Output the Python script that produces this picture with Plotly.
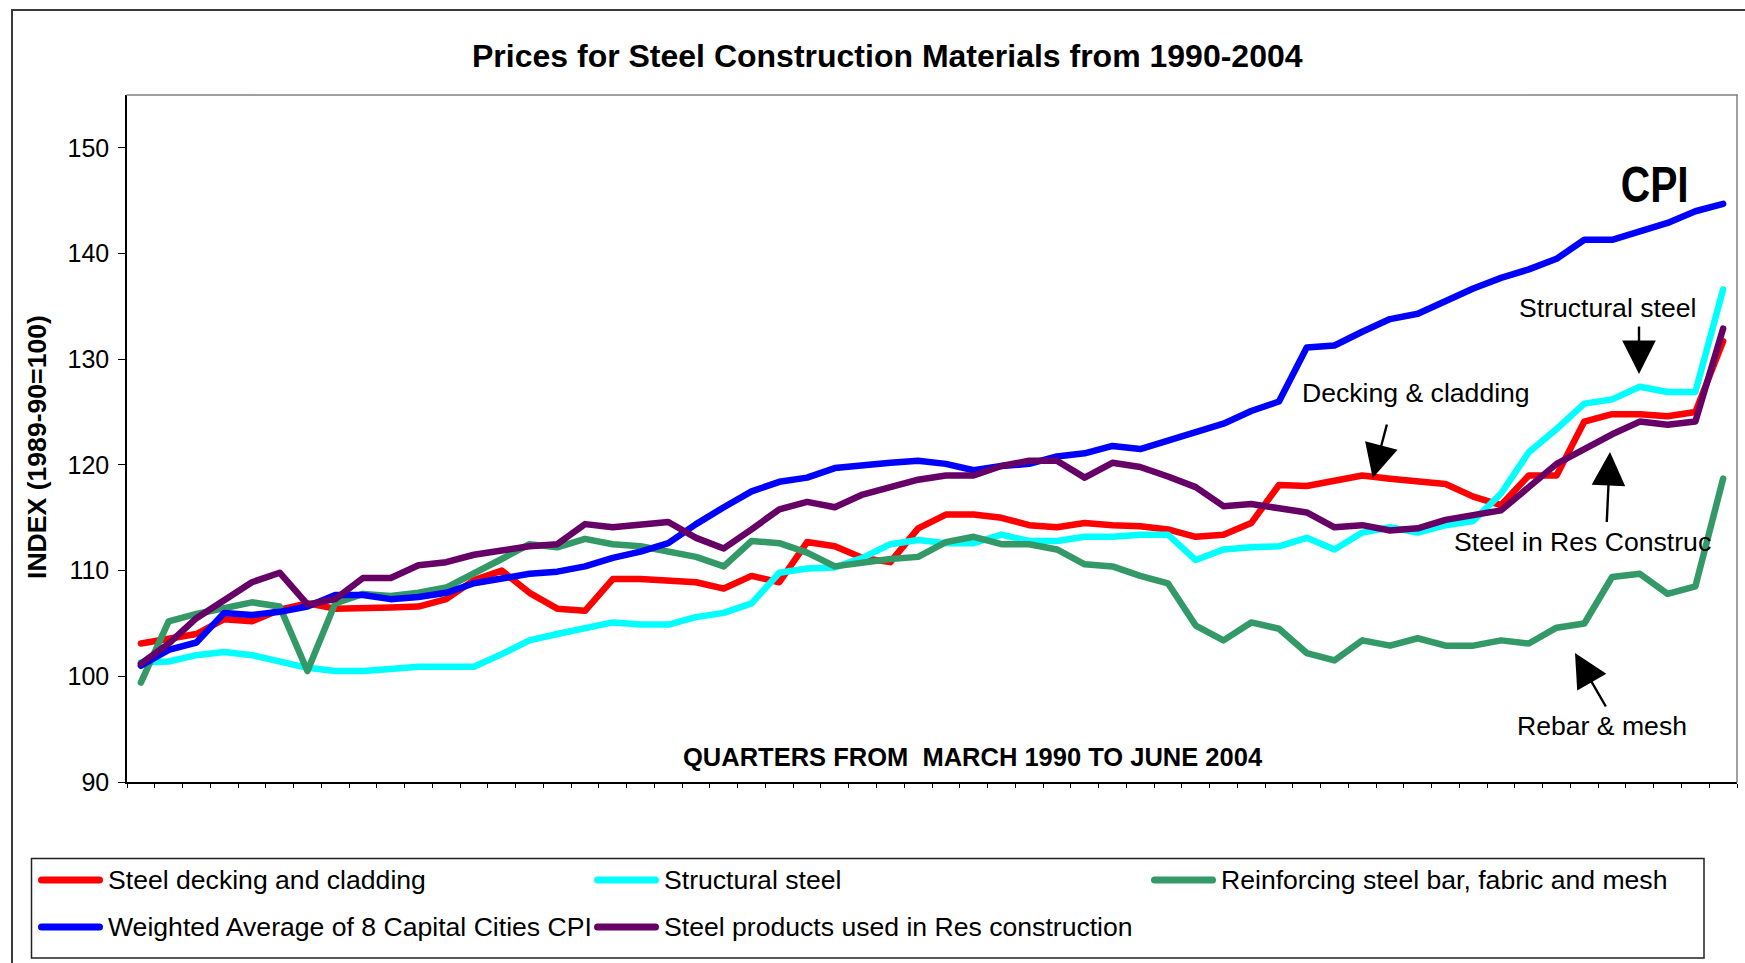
import plotly.graph_objects as go

# ---------------- data ----------------
months = ["Mar", "Jun", "Sep", "Dec"]
quarters = [f"{months[q % 4]}-{1990 + q // 4}" for q in range(58)]  # Mar-1990 .. Jun-2004

decking = [103.1, 103.6, 104.0, 105.4, 105.2, 106.3, 106.9, 106.4, 106.4, 106.5,
           106.6, 107.3, 109.1, 110.0, 107.9, 106.4, 106.2, 109.2, 109.2, 109.1,
           108.9, 108.3, 109.5, 108.9, 112.7, 112.3, 111.2, 110.8, 114.0, 115.3,
           115.3, 115.0, 114.3, 114.1, 114.5, 114.3, 114.2, 113.9, 113.2, 113.4,
           114.5, 118.1, 118.0, 118.5, 119.0, 118.7, 118.5, 118.2, 117.0, 116.2,
           119.0, 119.0, 124.1, 124.8, 124.8, 124.6, 125.0, 131.7]

structural = [101.3, 101.4, 102.0, 102.3, 102.0, 101.4, 100.8, 100.5, 100.5, 100.7,
              100.9, 100.9, 100.9, 102.1, 103.4, 104.0, 104.5, 105.1, 104.9, 104.9,
              105.6, 106.0, 106.9, 109.8, 110.2, 110.3, 111.2, 112.5, 112.9, 112.6,
              112.6, 113.4, 112.8, 112.8, 113.2, 113.2, 113.4, 113.4, 111.0, 112.0,
              112.2, 112.3, 113.1, 112.0, 113.6, 114.1, 113.6, 114.3, 114.7, 117.3,
              121.2, 123.4, 125.8, 126.2, 127.4, 126.9, 126.9, 136.6]

rebar = [99.4, 105.2, 105.9, 106.5, 107.0, 106.6, 100.5, 106.9, 107.8, 107.6,
         107.9, 108.4, 109.7, 111.1, 112.5, 112.2, 113.0, 112.5, 112.3, 111.8,
         111.3, 110.4, 112.8, 112.6, 111.7, 110.4, 110.8, 111.1, 111.3, 112.7,
         113.2, 112.5, 112.5, 112.0, 110.6, 110.4, 109.5, 108.8, 104.8, 103.4,
         105.1, 104.5, 102.2, 101.5, 103.4, 102.9, 103.6, 102.9, 102.9, 103.4,
         103.1, 104.6, 105.0, 109.4, 109.7, 107.8, 108.5, 118.7]

cpi = [101.0, 102.5, 103.2, 106.0, 105.8, 106.1, 106.6, 107.7, 107.7, 107.3,
       107.5, 107.9, 108.8, 109.2, 109.7, 109.9, 110.4, 111.2, 111.8, 112.6,
       114.4, 116.0, 117.5, 118.4, 118.8, 119.7, 120.0, 120.2, 120.4, 120.1,
       119.5, 119.9, 120.1, 120.8, 121.1, 121.8, 121.5, 122.3, 123.2, 123.9,
       125.1, 126.0, 131.1, 131.3, 132.6, 133.8, 134.3, 135.5, 136.7, 137.7,
       138.5, 139.5, 141.3, 141.3, 142.1, 142.9, 144.0, 144.7]

res_steel = [101.2, 103.1, 105.5, 107.2, 108.9, 109.8, 106.8, 107.3, 109.3, 109.3,
             110.5, 110.8, 111.5, 111.9, 112.3, 112.5, 114.4, 114.1, 114.4, 114.6,
             113.1, 112.1, 113.9, 115.8, 116.5, 116.0, 117.2, 117.9, 118.6, 119.0,
             119.0, 119.9, 120.4, 120.4, 118.8, 120.2, 119.8, 118.9, 117.9, 116.1,
             116.3, 115.9, 115.5, 114.1, 114.3, 113.8, 114.0, 114.8, 115.3, 115.7,
             117.9, 120.1, 121.5, 122.9, 124.1, 123.8, 124.1, 132.9]

series_names = ["Steel decking and cladding", "Structural steel",
                "Reinforcing steel bar, fabric and mesh",
                "Weighted Average of 8 Capital Cities CPI",
                "Steel products used in Res construction"]
series_values = [decking, structural, rebar, cpi, res_steel]
series_colors = ["#FF0000", "#00FFFF", "#339966", "#0000FF", "#660066"]

y_ticks = [90, 100, 110, 120, 130, 140, 150]

# ---------------- layout helpers ----------------
W, H = 1745, 963
ML, MR, MT, MB = 127, 8, 95, 181
PW, PH = W - ML - MR, H - MT - MB
FONT = "Liberation Sans, Arial, sans-serif"


def X(px):
    return (px - ML) / PW


def Y(py):
    return (H - MB - py) / PH


fig = go.Figure()
for name, vals, col in zip(series_names, series_values, series_colors):
    fig.add_trace(go.Scatter(x=quarters, y=vals, name=name, mode="lines",
                             line=dict(color=col, width=6.5), showlegend=False))

shapes = []
# outer chart border (extends past the right/bottom edge like the reference)
shapes.append(dict(type="rect", xref="paper", yref="paper",
                   x0=X(12), x1=X(1800), y0=Y(1010), y1=Y(10),
                   line=dict(color="#3a3a3a", width=2), layer="below"))
# plot area grey border (top and right)
shapes.append(dict(type="line", xref="paper", yref="paper", x0=0, x1=1, y0=1, y1=1,
                   line=dict(color="#808080", width=1.5)))
shapes.append(dict(type="line", xref="paper", yref="paper", x0=1, x1=1, y0=0, y1=1,
                   line=dict(color="#808080", width=1.5)))
# legend box
shapes.append(dict(type="rect", xref="paper", yref="paper",
                   x0=X(31.5), x1=X(1704), y0=Y(958), y1=Y(858.5),
                   line=dict(color="#222222", width=1.5)))

annotations = []
# legend entries (manual, Excel-like)
leg_pos = [(108, 880), (664, 880), (1221, 880), (108, 927), (664, 927)]
for (tx, ty), name, col in zip(leg_pos, series_names, series_colors):
    shapes.append(dict(type="line", xref="paper", yref="paper",
                       x0=X(tx - 66.5), x1=X(tx - 8.5), y0=Y(ty), y1=Y(ty),
                       line=dict(color=col, width=7)))
    annotations.append(dict(text=name, xref="paper", yref="paper", x=X(tx - 2), y=Y(ty),
                            xanchor="left", yanchor="middle", showarrow=False,
                            font=dict(family=FONT, size=26.6, color="black")))

# titles
annotations.append(dict(text="<b>Prices for Steel Construction Materials from 1990-2004</b>",
                        xref="paper", yref="paper", x=X(887), y=Y(56),
                        xanchor="center", yanchor="middle", showarrow=False,
                        font=dict(family=FONT, size=32, color="black")))
annotations.append(dict(text="<b>INDEX (1989-90=100)</b>", textangle=-90,
                        xref="paper", yref="paper", x=X(37), y=Y(447),
                        xanchor="center", yanchor="middle", showarrow=False,
                        font=dict(family=FONT, size=26.6, color="black")))
annotations.append(dict(text="<b>QUARTERS FROM  MARCH 1990 TO JUNE 2004</b>",
                        xref="paper", yref="paper", x=X(973), y=Y(757),
                        xanchor="center", yanchor="middle", showarrow=False,
                        font=dict(family=FONT, size=25.5, color="black")))
annotations.append(dict(text="<b>CPI</b>", xref="paper", yref="paper",
                        x=X(1654.5), y=Y(185), xanchor="center", yanchor="middle",
                        showarrow=False,
                        font=dict(family=FONT, size=50, color="black")))

# series labels
labels = [("Structural steel", 1607, 307.5), ("Decking & cladding", 1416, 393),
          ("Steel in Res Construc", 1582, 542), ("Rebar & mesh", 1602, 726)]
for txt, cx, cy in labels:
    annotations.append(dict(text=txt, xref="paper", yref="paper", x=X(cx), y=Y(cy),
                            xanchor="center", yanchor="middle", showarrow=False,
                            font=dict(family=FONT, size=26.6, color="black")))

# arrows: (head_x, head_y, tail_x, tail_y) in pixels
arrows = [(1639, 374, 1639, 325), (1372.7, 478, 1387.3, 423),
          (1610, 452, 1606.7, 523.5), (1575, 653, 1606.7, 708)]
for hx, hy, tx, ty in arrows:
    annotations.append(dict(text="", xref="paper", yref="paper", x=X(hx), y=Y(hy),
                            ax=tx - hx, ay=ty - hy, showarrow=True,
                            arrowhead=2, arrowsize=2.8, arrowwidth=2.4,
                            arrowcolor="black", standoff=0))

fig.update_layout(
    width=W, height=H,
    margin=dict(l=ML, r=MR, t=MT, b=MB, pad=0),
    paper_bgcolor="white", plot_bgcolor="white",
    font=dict(family=FONT, size=25, color="black"),
    showlegend=False,
    shapes=shapes,
    annotations=annotations,
    xaxis=dict(type="category", categoryorder="array", categoryarray=quarters,
               range=[-0.5, len(quarters) - 0.5], tickson="boundaries",
               ticks="outside", ticklen=4, tickwidth=1.3, tickcolor="black",
               showticklabels=False, showgrid=False, zeroline=False,
               showline=True, linecolor="black", linewidth=1.5),
    yaxis=dict(range=[90, 155], tickmode="array", tickvals=y_ticks,
               ticktext=[str(v) for v in y_ticks],
               ticks="outside", ticklen=7, tickwidth=1.3, tickcolor="black",
               ticklabelstandoff=4,
               showgrid=False, zeroline=False, showline=True,
               linecolor="black", linewidth=1.5,
               tickfont=dict(family=FONT, size=25, color="black")),
)

post = (
    "var s=document.createElement('style');"
    "s.innerHTML='html,body{margin:0 !important;padding:0 !important;overflow:hidden;}"
    " .scatterlayer .js-line{stroke-linejoin:round !important;stroke-linecap:round !important;}"
    " .shapelayer path{stroke-linecap:round;}';"
    "document.head.appendChild(s);"
    "document.querySelectorAll('text.annotation-text').forEach(function(t){"
    "if(t.textContent==='CPI'){t.setAttribute('textLength','68');"
    "t.setAttribute('lengthAdjust','spacingAndGlyphs');}});"
)
fig.write_html("out.html", post_script=post, config={"displayModeBar": False})
